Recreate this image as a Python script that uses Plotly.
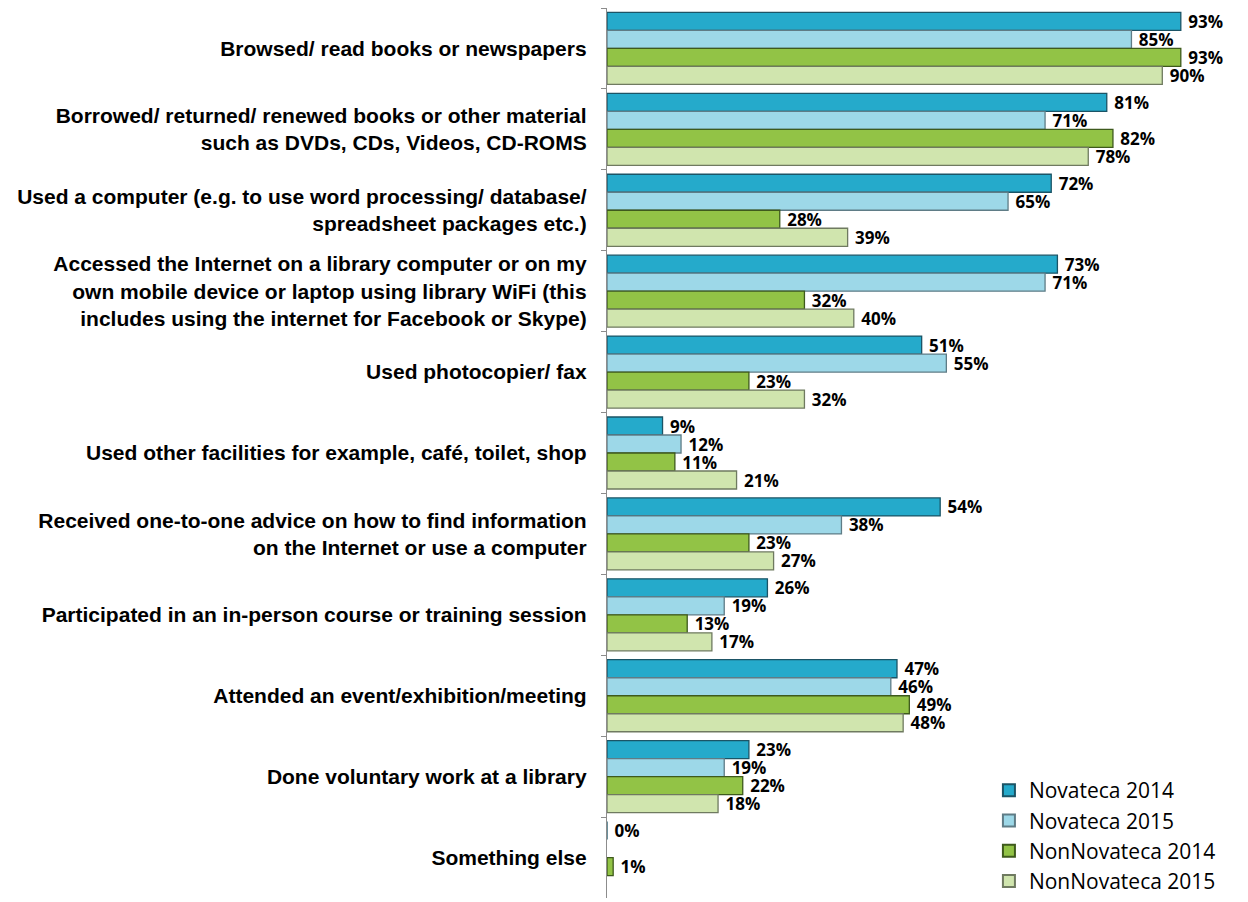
import plotly.graph_objects as go

categories = [
    "Browsed/ read books or newspapers",
    "Borrowed/ returned/ renewed books or other material<br>such as DVDs, CDs, Videos, CD-ROMS",
    "Used a computer (e.g. to use word processing/ database/<br>spreadsheet packages etc.)",
    "Accessed the Internet on a library computer or on my<br>own mobile device or laptop using library WiFi (this<br>includes using the internet for Facebook or Skype)",
    "Used photocopier/ fax",
    "Used other facilities for example, café, toilet, shop",
    "Received one-to-one advice on how to find information<br>on the Internet or use a computer",
    "Participated in an in-person course or training session",
    "Attended an event/exhibition/meeting",
    "Done voluntary work at a library",
    "Something else",
]

novateca_2014 = [93, 81, 72, 73, 51, 9, 54, 26, 47, 23, 0]
novateca_2015 = [85, 71, 65, 71, 55, 12, 38, 19, 46, 19, None]
nonnovateca_2014 = [93, 82, 28, 32, 23, 11, 23, 13, 49, 22, 1]
nonnovateca_2015 = [90, 78, 39, 40, 32, 21, 27, 17, 48, 18, None]

series = [
    ("Novateca 2014", novateca_2014, "#25AACB", "#1B5466"),
    ("Novateca 2015", novateca_2015, "#9DD8E8", "#5F7C86"),
    ("NonNovateca 2014", nonnovateca_2014, "#92C346", "#3E5A1C"),
    ("NonNovateca 2015", nonnovateca_2015, "#D0E5AE", "#6F7A60"),
]

fig = go.Figure()
for name, vals, fill, line in series:
    fig.add_trace(go.Bar(
        name=name,
        legendgroup=name,
        y=categories,
        x=vals,
        orientation="h",
        marker=dict(color=fill, line=dict(color=line, width=1.3)),
        texttemplate="\u00a0%{x}%",
        textposition="outside",
        constraintext="none",
        textfont=dict(family="Open Sans, sans-serif", size=17, color="#000000", weight="bold"),
        cliponaxis=False,
    ))

fig.update_layout(
    width=1240,
    height=894,
    barmode="group",
    bargap=0.11,
    bargroupgap=0,
    plot_bgcolor="white",
    paper_bgcolor="white",
    margin=dict(l=599, r=24, t=0, b=4),
    xaxis=dict(range=[0, 100], visible=False, automargin=False),
    yaxis=dict(
        categoryorder="array",
        categoryarray=categories,
        autorange="reversed",
        automargin=False,
        showline=True,
        linecolor="#8C8C8C",
        linewidth=1.3,
        ticks="outside",
        tickson="boundaries",
        ticklen=5,
        tickcolor="#8C8C8C",
        ticklabelstandoff=15,
        tickfont=dict(family="Liberation Sans, Arial, sans-serif", size=21, color="#000000", weight="bold"),
    ),
    legend=dict(
        x=0.619, y=-0.005, xanchor="left", yanchor="bottom",
        font=dict(family="Open Sans, sans-serif", size=21, color="#000000"),
        tracegroupgap=0,
        itemsizing="constant",
        bgcolor="rgba(0,0,0,0)",
    ),
)

fig.write_html("out.html")
